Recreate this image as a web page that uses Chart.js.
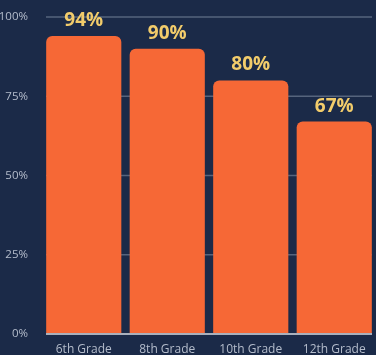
<!DOCTYPE html>
<html>
<head>
<meta charset="utf-8">
<script src="https://cdn.jsdelivr.net/npm/chart.js@4"></script>
<style>
  html, body { margin: 0; padding: 0; background: #1b2a48; }
  #wrap { width: 376px; height: 355px; }
</style>
</head>
<body>
<div id="wrap"><canvas id="chart"></canvas></div>
<script>
const grades = ['6th Grade', '8th Grade', '10th Grade', '12th Grade'];
const rates = [94, 90, 80, 67];
const yTicks = [0, 25, 50, 75, 100];

// gridlines and base line span the bars only, not the outer category gap
const INSET = 4;

const gridLines = {
    id: 'gridLines',
    beforeDatasetsDraw(chart) {
        const { ctx, chartArea, scales } = chart;
        const left = chartArea.left + INSET;
        const right = chartArea.right - INSET;
        ctx.save();
        ctx.strokeStyle = '#56647d';
        ctx.lineWidth = 1.5;
        yTicks.slice(1).forEach(v => {
            const y = scales.y.getPixelForValue(v);
            ctx.beginPath();
            ctx.moveTo(left, y);
            ctx.lineTo(right, y);
            ctx.stroke();
        });
        ctx.restore();
    },
    afterDatasetsDraw(chart) {
        const { ctx, chartArea, scales } = chart;
        const y = scales.y.getPixelForValue(0);
        ctx.save();
        ctx.strokeStyle = '#a9b0bd';
        ctx.lineWidth = 2;
        ctx.beginPath();
        ctx.moveTo(chartArea.left + INSET, y);
        ctx.lineTo(chartArea.right - INSET, y);
        ctx.stroke();
        ctx.restore();
    }
};

// value labels over each bar
const barLabels = {
    id: 'barLabels',
    afterDatasetsDraw(chart) {
        const ctx = chart.ctx;
        const meta = chart.getDatasetMeta(0);
        ctx.save();
        ctx.fillStyle = '#f2cc6b';
        ctx.font = 'bold 19px "Open Sans"';
        ctx.textAlign = 'center';
        ctx.textBaseline = 'alphabetic';
        meta.data.forEach((bar, i) => {
            ctx.fillText(rates[i] + '%', bar.x, bar.y - 10);
        });
        ctx.restore();
    }
};

new Chart(document.getElementById('chart'), {
    type: 'bar',
    data: {
        labels: grades,
        datasets: [{
            data: rates,
            backgroundColor: '#f66836',
            borderRadius: { topLeft: 6, topRight: 6 },
            borderSkipped: 'bottom',
            barPercentage: 0.9,
            categoryPercentage: 1
        }]
    },
    options: {
        responsive: true,
        maintainAspectRatio: false,
        animation: false,
        layout: { padding: { top: 17, right: 0, left: 0, bottom: 0 } },
        plugins: {
            legend: { display: false },
            tooltip: { enabled: false }
        },
        scales: {
            x: {
                grid: { display: false },
                border: { display: false },
                afterFit(axis) { axis.height = 21; },
                ticks: {
                    color: '#b4bccb',
                    font: { family: 'Open Sans', size: 12 },
                    padding: 0
                }
            },
            y: {
                min: 0,
                max: 100,
                afterBuildTicks(axis) {
                    axis.ticks = yTicks.map(v => ({ value: v }));
                },
                afterFit(axis) { axis.width = 42; },
                grid: { display: false },
                border: { display: false },
                ticks: {
                    color: '#b4bccb',
                    font: { family: 'Open Sans', size: 11.5 },
                    padding: 6,
                    callback: v => v + '%'
                }
            }
        }
    },
    plugins: [gridLines, barLabels]
});
</script>
</body>
</html>
